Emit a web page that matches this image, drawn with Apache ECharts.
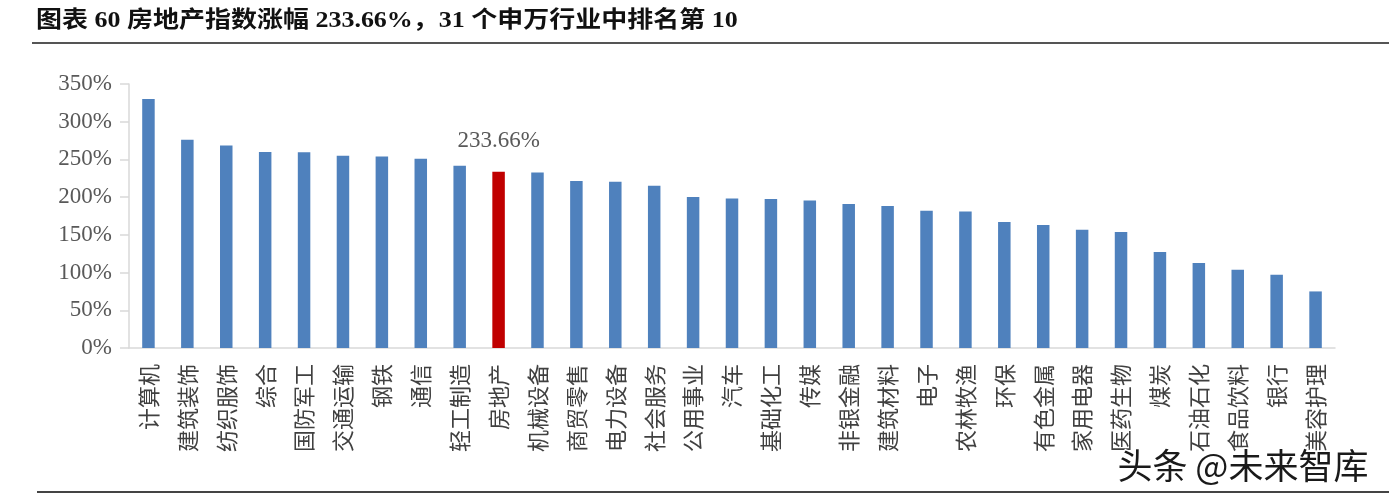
<!DOCTYPE html>
<html>
<head>
<meta charset="utf-8">
<script src="https://cdn.jsdelivr.net/npm/echarts@6/dist/echarts.min.js"></script>
<style>
html,body{margin:0;padding:0;background:#fff;}
#chart{width:1389px;height:503px;}
</style>
</head>
<body>
<div id="chart"></div>
<script>
var categories = ['计算机','建筑装饰','纺织服饰','综合','国防军工','交通运输','钢铁','通信','轻工制造','房地产','机械设备','商贸零售','电力设备','社会服务','公用事业','汽车','基础化工','传媒','非银金融','建筑材料','电子','农林牧渔','环保','有色金属','家用电器','医药生物','煤炭','石油石化','食品饮料','银行','美容护理'];
var values = [330.0, 276.0, 268.5, 260.0, 259.6, 254.8, 253.9, 250.8, 241.6, 233.66, 232.8, 221.3, 220.4, 215.0, 200.1, 198.3, 197.4, 195.6, 190.8, 188.2, 181.9, 181.0, 167.0, 163.0, 156.7, 153.7, 127.2, 112.6, 103.7, 97.1, 75.0];
var highlightCategory = '房地产';
var yTicks = [0, 50, 100, 150, 200, 250, 300, 350];
var titleText = '图表 60 房地产指数涨幅 233.66%，31 个申万行业中排名第 10';
var watermarkText = '头条 @未来智库';

var chart = echarts.init(document.getElementById('chart'), null, {renderer: 'canvas'});
var serif = '"Liberation Serif", "DejaVu Serif", "Noto Sans CJK SC", serif';
var cjk = '"Noto Sans CJK SC", "Liberation Serif", sans-serif';

var barData = values.map(function (v, i) {
  if (categories[i] === highlightCategory) {
    return {
      value: v,
      itemStyle: {color: '#C00000'},
      label: {
        show: true, position: 'top', distance: 19,
        formatter: function (p) { return p.value.toFixed(2) + '%'; },
        fontFamily: serif, fontSize: 23, color: '#595959'
      }
    };
  }
  return v;
});

chart.setOption({
  animation: false,
  backgroundColor: '#ffffff',
  grid: {left: 129, right: 54, top: 84, bottom: 155, containLabel: false},
  xAxis: {
    type: 'category', data: categories,
    axisLine: {show: true, lineStyle: {color: '#d9d9d9', width: 1.5}},
    axisTick: {show: false},
    axisLabel: {
      interval: 0, rotate: 90, margin: 16,
      fontFamily: cjk, fontSize: 22, color: '#404040'
    }
  },
  yAxis: {
    type: 'value', min: yTicks[0], max: yTicks[yTicks.length - 1], interval: 50,
    splitLine: {show: false},
    axisLine: {show: true, lineStyle: {color: '#d9d9d9', width: 1.5}},
    axisTick: {show: true, length: 9, lineStyle: {color: '#d9d9d9', width: 1.5}},
    axisLabel: {
      margin: 17, fontFamily: serif, fontSize: 23, color: '#595959',
      formatter: '{value}%'
    }
  },
  series: [{
    type: 'bar', data: barData, barWidth: 12.5,
    itemStyle: {color: '#4F81BD'}
  }],
  graphic: [
    {type: 'text', x: 36, y: 10, scaleX: 1.13, scaleY: 1,
     style: {text: titleText, font: 'bold 23px "Liberation Serif", "Noto Sans CJK SC", serif', fill: '#111',
             textVerticalAlign: 'top'}},
    {type: 'rect', shape: {x: 32, y: 42, width: 1357, height: 2}, style: {fill: '#555'}},
    {type: 'rect', shape: {x: 37, y: 491, width: 1352, height: 2}, style: {fill: '#444'}},
    {type: 'text', left: 1116, top: 447, z: 100,
     style: {text: watermarkText, font: '35px "Noto Sans CJK SC", sans-serif', fill: '#1a1a1a',
             stroke: '#ffffff', lineWidth: 3}}
  ]
});
</script>
</body>
</html>
